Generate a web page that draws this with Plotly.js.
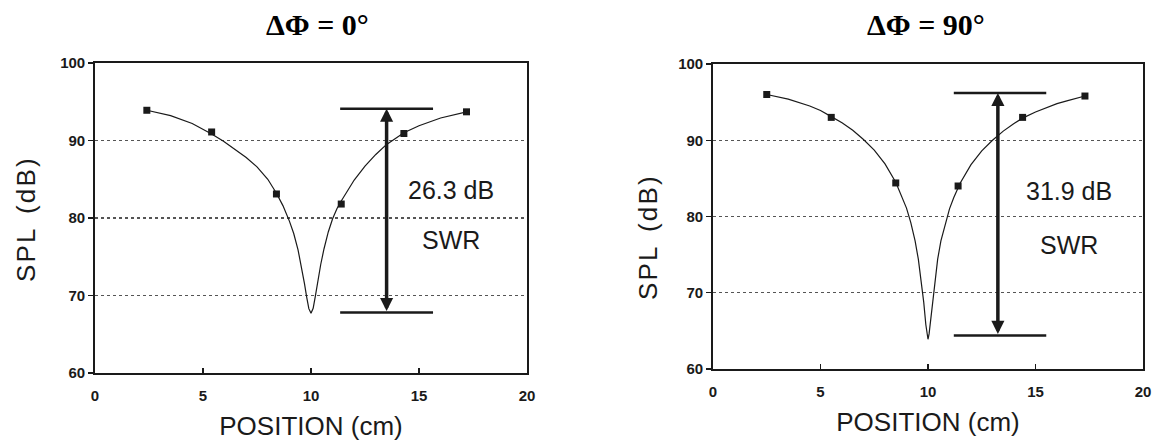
<!DOCTYPE html>
<html>
<head>
<meta charset="utf-8">
<script src="https://cdn.plot.ly/plotly-3.0.1.min.js"></script>
<style>html,body{margin:0;padding:0;background:#fff;}#chart{width:1154px;height:447px;}</style>
</head>
<body>
<div id="chart"></div>
<script>
// ---- measured points (left: ΔΦ = 0°, right: ΔΦ = 90°) ----
const posLeft = [2.4, 5.4, 8.4, 11.4, 14.3, 17.2];
const splLeft = [93.9, 91.1, 83.1, 81.8, 90.9, 93.7];
const posRight = [2.5, 5.5, 8.5, 11.4, 14.4, 17.3];
const splRight = [96.0, 93.0, 84.4, 84.0, 93.0, 95.8];

// ---- fitted curves ----
const curveXLeft = [2.4, 3.5, 4.5, 5.4, 5.95, 6.5, 7.0, 7.5, 8.0, 8.4, 8.7, 9.0, 9.2, 9.4, 9.55, 9.7, 9.8, 9.9, 10.0,
  10.1, 10.2, 10.3, 10.45, 10.6, 10.8, 11.0, 11.2, 11.4, 11.7, 12.0, 12.5, 13.0, 13.5, 14.0, 14.3, 15.0, 16.0, 17.2];
const curveYLeft = [93.9, 93.2, 92.2, 90.85, 89.9, 88.85, 87.8, 86.6, 85.0, 83.2, 81.6, 79.6, 78.0, 75.9, 73.9, 71.5, 69.8, 68.3, 67.7,
  68.35, 69.9, 71.6, 74.0, 76.0, 78.2, 79.9, 81.2, 82.2, 83.6, 84.9, 86.7, 88.2, 89.5, 90.5, 91.0, 91.9, 92.9, 93.7];
const curveXRight = [2.5, 3.5, 4.5, 5.0, 5.5, 6.0, 6.5, 7.0, 7.5, 8.0, 8.5, 8.8, 9.0, 9.2, 9.4, 9.55, 9.7, 9.8, 9.9, 9.95, 10.0,
  10.05, 10.1, 10.2, 10.3, 10.45, 10.6, 10.8, 11.0, 11.2, 11.4, 11.5, 12.0, 12.5, 13.0, 13.5, 14.0, 14.4, 15.0, 15.5, 16.0, 16.5, 17.3];
const curveYRight = [96.0, 95.4, 94.5, 93.9, 93.1, 92.3, 91.3, 90.1, 88.7, 86.9, 84.5, 82.6, 81.1, 79.2, 76.8, 74.4, 71.4, 68.8, 65.8, 64.6, 63.9,
  64.6, 65.8, 68.8, 71.4, 74.4, 76.8, 79.1, 81.0, 82.5, 83.8, 84.4, 86.8, 88.6, 90.0, 91.2, 92.2, 92.9, 93.7, 94.3, 94.8, 95.2, 95.8];

// ---- SWR markers ----
const swrLeft = {arrowX: 13.5, top: 94.1, bottom: 67.8, barX0: 11.35, barX1: 15.65, label: "26.3 dB", labelX: 16.5, labelY: 83.6, swrY: 77.2};
const swrRight = {arrowX: 13.25, top: 96.2, bottom: 64.4, barX0: 11.2, barX1: 15.5, label: "31.9 dB", labelX: 16.55, labelY: 83.3, swrY: 76.3};

// ---- ticks & titles ----
const xTicks = [0, 5, 10, 15, 20];
const yTicks = [60, 70, 80, 90, 100];
const panelTitles = ["ΔΦ = 0°", "ΔΦ = 90°"];
const xTitle = "POSITION (cm)";
const yTitle = "S\u200aP\u200aL\u00a0\u00a0(\u200ad\u200aB\u200a)";

const ink = "#1a1a1a";
const sans = "Liberation Sans, Arial, sans-serif";

function curveTrace(x, y, xa, ya) {
  return {x: x, y: y, xaxis: xa, yaxis: ya, type: "scatter", mode: "lines",
    line: {color: ink, width: 1.2, shape: "linear"}, hoverinfo: "skip", showlegend: false};
}
function pointTrace(x, y, xa, ya) {
  return {x: x, y: y, xaxis: xa, yaxis: ya, type: "scatter", mode: "markers",
    marker: {symbol: "square", size: 7, color: ink}, showlegend: false};
}

const data = [
  curveTrace(curveXLeft, curveYLeft, "x", "y"),
  pointTrace(posLeft, splLeft, "x", "y"),
  curveTrace(curveXRight, curveYRight, "x2", "y2"),
  pointTrace(posRight, splRight, "x2", "y2")
];

function xAxis(domain, anchor) {
  return {domain: domain, anchor: anchor, range: [0, 20], tickvals: xTicks, ticktext: xTicks.map(String),
    ticks: "inside", ticklen: 5, tickcolor: ink, tickwidth: 1.2,
    showline: true, mirror: true, linecolor: ink, linewidth: 1.8,
    showgrid: false, zeroline: false, ticklabelstandoff: 8,
    tickfont: {family: sans, size: 15, color: ink, weight: "bold"},
    title: {text: xTitle, font: {family: sans, size: 26, color: ink}, standoff: 14}};
}
function yAxis(domain, anchor) {
  return {domain: domain, anchor: anchor, range: [60, 100], tickvals: yTicks, ticktext: yTicks.map(String),
    ticks: "outside", ticklen: 5, tickcolor: ink, tickwidth: 1.2,
    showline: true, mirror: true, linecolor: ink, linewidth: 1.8,
    showgrid: true, gridcolor: "#555", gridwidth: 1.2, griddash: "dot", zeroline: false,
    ticklabelstandoff: 0,
    tickfont: {family: sans, size: 15, color: ink, weight: "bold"}};
}

function swrShapes(s, xr, yr) {
  return [
    {type: "line", xref: xr, yref: yr, x0: s.barX0, x1: s.barX1, y0: s.top, y1: s.top, line: {color: ink, width: 2.5}},
    {type: "line", xref: xr, yref: yr, x0: s.barX0, x1: s.barX1, y0: s.bottom, y1: s.bottom, line: {color: ink, width: 2.5}}
  ];
}
function swrAnnots(s, xr, yr) {
  return [
    {xref: xr, yref: yr, x: s.arrowX, y: s.top, axref: xr, ayref: yr, ax: s.arrowX, ay: s.bottom,
      text: "", showarrow: true, arrowside: "end+start", arrowhead: 2, arrowsize: 0.75, arrowwidth: 3.5,
      arrowcolor: ink, standoff: 0, startstandoff: 0},
    {xref: xr, yref: yr, x: s.labelX, y: s.labelY, text: s.label, showarrow: false,
      xanchor: "center", yanchor: "middle", font: {family: sans, size: 25, color: ink}},
    {xref: xr, yref: yr, x: s.labelX, y: s.swrY, text: "SWR", showarrow: false,
      xanchor: "center", yanchor: "middle", font: {family: sans, size: 25, color: ink}}
  ];
}

function paperText(x, y, text, font, angle) {
  return {xref: "paper", yref: "paper", x: x / 1154, y: 1 - y / 447, text: text, showarrow: false,
    xanchor: "center", yanchor: "middle", textangle: angle || 0, font: font};
}
const titleFont = {family: "Liberation Serif, Times New Roman, serif", size: 30, color: "#000"};
const yTitleFont = {family: sans, size: 26, color: ink};

const layout = {
  width: 1154, height: 447,
  margin: {l: 0, r: 0, t: 0, b: 0},
  paper_bgcolor: "#fff", plot_bgcolor: "#fff",
  showlegend: false,
  xaxis: xAxis([95 / 1154, 527 / 1154], "y"),
  yaxis: yAxis([1 - 373 / 447, 1 - 63 / 447], "x"),
  xaxis2: xAxis([713 / 1154, 1143 / 1154], "y2"),
  yaxis2: yAxis([1 - 369 / 447, 1 - 64 / 447], "x2"),
  shapes: [].concat(swrShapes(swrLeft, "x", "y"), swrShapes(swrRight, "x2", "y2")),
  annotations: [].concat(
    swrAnnots(swrLeft, "x", "y"),
    swrAnnots(swrRight, "x2", "y2"),
    [
      paperText(317, 24, "<b>" + panelTitles[0] + "</b>", titleFont),
      paperText(926, 24, "<b>" + panelTitles[1] + "</b>", titleFont),
      paperText(26, 220, yTitle, yTitleFont, -90),
      paperText(648, 238, yTitle, yTitleFont, -90)
    ]
  )
};

Plotly.newPlot("chart", data, layout, {staticPlot: true, displayModeBar: false});
</script>
</body>
</html>
